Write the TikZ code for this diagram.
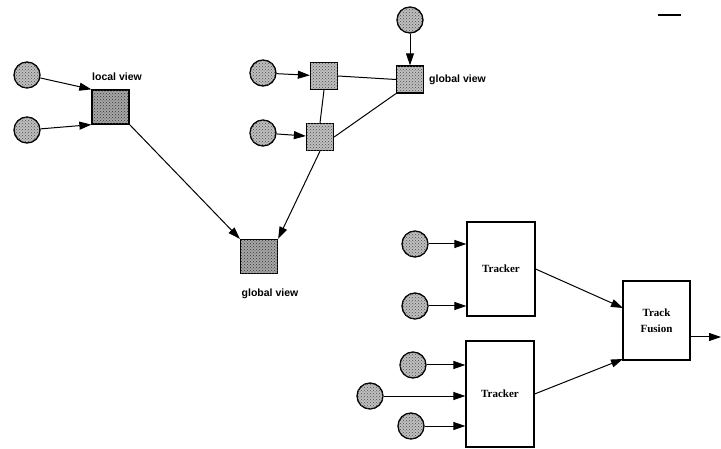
\documentclass[tikz,border=0pt]{standalone}
\usepackage{fontspec}
\setmainfont{Liberation Serif}
\newfontfamily\viewfont{Liberation Sans}
\usetikzlibrary{arrows.meta,patterns}
\begin{document}
\begin{tikzpicture}[x=1pt,y=-1pt,
  src/.style={circle,draw,line width=1.3pt,minimum size=26pt,inner sep=0pt,fill=black!25,postaction={pattern=crosshatch dots,pattern color=black!70}},
  bigsq/.style={rectangle,draw,line width=1.3pt,minimum width=37pt,minimum height=34pt,inner sep=0pt,fill=black!35,postaction={pattern=crosshatch dots,pattern color=black!80}},
  smsq/.style={rectangle,draw,line width=1.3pt,minimum width=27pt,minimum height=27pt,inner sep=0pt,fill=black!25,postaction={pattern=crosshatch dots,pattern color=black!70}},
  procbox/.style={rectangle,draw,line width=1.2pt,minimum width=68pt,inner sep=0pt,fill=white,font=\bfseries\fontsize{11}{13}\selectfont,align=center},
  lbl/.style={font=\viewfont\bfseries\fontsize{10.5}{12}\selectfont,inner sep=1pt},
  arr/.style={-{Triangle[length=12pt,width=8pt]},line width=1pt},
  ln/.style={line width=1pt}]
\useasboundingbox (0,0) rectangle (721,449);
% left group
\node[src] (c1) at (27,75) {};
\node[src] (c2) at (27,130) {};
\node[bigsq] (lv) at (110.5,107) {};
\node[lbl,anchor=base] (lvl) at (117,81) {local view};
\node[bigsq] (gv) at (259,256.5) {};
\node[lbl,anchor=base] (gvl) at (270,297) {global view};
\draw[arr] (c1) -- (lv.north west);
\draw[arr] (c2) -- (lv.south west);
\draw[arr] (lv.south east) -- (gv.north west);
% middle group
\node[src] (c3) at (263,73) {};
\node[src] (c4) at (263,133) {};
\node[src] (c5) at (410,20) {};
\node[smsq] (b1) at (324,76) {};
\node[smsq] (b2) at (320,137) {};
\node[smsq] (gt) at (410,79.5) {};
\node[lbl,anchor=base west] (gtl) at (428,83) {global view};
\draw[arr] (c3) -- (b1);
\draw[arr] (c4) -- (b2);
\draw[arr] (c5) -- (gt);
\draw[ln] (b1.east) -- (gt.west);
\draw[ln] (b1.south) -- (b2.north);
\draw[ln] (b2.east) -- (gt.south west);
\draw[arr] (b2.south) -- (gv.north east);
% right group
\node[procbox,minimum height=94pt] (t1) at (501,269) {Tracker};
\node[procbox,minimum height=106pt] (t2) at (500,394) {Tracker};
\node[procbox,minimum height=79pt,minimum width=67pt] (tf) at (656.5,320.5) {Track\\[3pt]Fusion};
\node[src] (c6) at (415,244) {};
\node[src] (c7) at (415,306) {};
\node[src] (c8) at (413,365) {};
\node[src] (c9) at (370,396) {};
\node[src] (c10) at (411,426) {};
\draw[arr] (c6) -- (c6 -| t1.west);
\draw[arr] (c7) -- (c7 -| t1.west);
\draw[arr] (c8) -- (c8 -| t2.west);
\draw[arr] (c9) -- (c9 -| t2.west);
\draw[arr] (c10) -- (c10 -| t2.west);
\coordinate (f1) at (623,308);
\coordinate (f2) at (623,359);
\draw[arr] (t1.east) -- (f1);
\draw[arr] (t2.east) -- (f2);
\coordinate (out) at (721,337);
\draw[arr] (out -| tf.east) -- (out);
% stray mark
\coordinate (m1) at (658,15);
\coordinate (m2) at (681,15);
\draw[line width=1.3pt] (m1) -- (m2);
\end{tikzpicture}
\end{document}
